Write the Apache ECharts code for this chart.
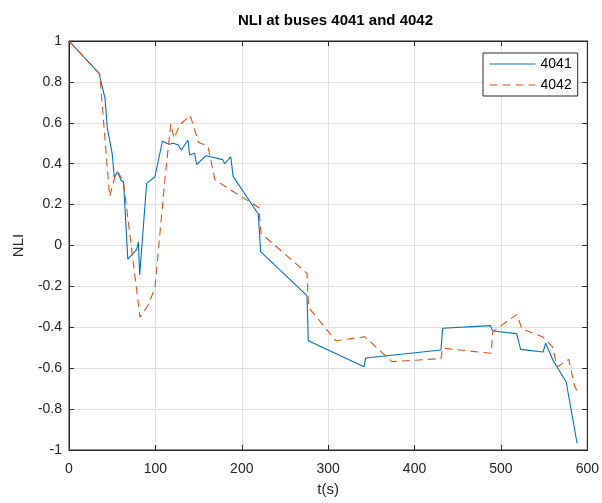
<!DOCTYPE html>
<html>
<head>
<meta charset="utf-8">
<script src="https://cdn.jsdelivr.net/npm/echarts@6/dist/echarts.min.js"></script>
<style>
  html, body { margin: 0; padding: 0; background: #fff; }
  #chart { width: 602px; height: 503px; }
</style>
</head>
<body>
<div id="chart"></div>
<script>
// ---- Data ----
const seriesNames = ['4041', '4042'];
const t4041 = [0, 34.8, 41.7, 44.4, 50.1, 52.4, 56.2, 60.4, 63.1, 68.1, 78.4, 80.3, 81.8, 89.9, 99.4, 108.2, 115.9, 120.8, 126.6, 130, 137.7, 139.6, 145.3, 147.8, 158.5, 178, 180.1, 187.3, 190, 219.1, 221.8, 275.5, 277, 341.5, 343.4, 430.6, 432.5, 487.9, 490.6, 518.2, 522.8, 548.8, 551.8, 560.6, 575.5, 588.1];
const v4041 = [1, 0.842, 0.72, 0.573, 0.447, 0.332, 0.361, 0.317, 0.312, -0.067, -0.019, 0.017, -0.144, 0.304, 0.335, 0.511, 0.495, 0.50, 0.491, 0.467, 0.516, 0.443, 0.451, 0.396, 0.439, 0.42, 0.40, 0.433, 0.338, 0.154, -0.03, -0.245, -0.466, -0.593, -0.55, -0.511, -0.405, -0.392, -0.418, -0.431, -0.508, -0.521, -0.478, -0.565, -0.666, -0.967];
const t4042 = [0, 35.6, 47, 54.7, 57.5, 63.1, 82.2, 91, 99.4, 111.3, 117.8, 121.6, 128.1, 140.3, 150, 160.8, 169, 219.9, 222.2, 275.5, 277.4, 308.9, 342.2, 374, 430.6, 432.3, 488.7, 490.6, 518.5, 524.3, 548, 559.5, 565.2, 578.5, 585.4, 590.8];
const v4042 = [1, 0.839, 0.239, 0.361, 0.355, 0.307, -0.351, -0.296, -0.21, 0.336, 0.594, 0.524, 0.589, 0.636, 0.504, 0.486, 0.32, 0.185, 0.06, -0.136, -0.303, -0.466, -0.446, -0.568, -0.553, -0.502, -0.527, -0.421, -0.337, -0.408, -0.446, -0.495, -0.593, -0.557, -0.69, -0.731];
const xTicks = { min: 0, max: 600, interval: 100 };
const yTicks = { min: -1, max: 1, interval: 0.2 };
const titleText = 'NLI at buses 4041 and 4042';
const xLabel = 't(s)';
const yLabel = 'NLI';

function zip(ts, vs) { return ts.map((t, i) => [t, vs[i]]); }

const FONT = '"Liberation Sans", Arial, Helvetica, sans-serif';
const AXC = '#262626';

const chart = echarts.init(document.getElementById('chart'), null, { renderer: 'canvas' });

function fmtY(v) {
  const r = Math.round(v * 10) / 10;
  if (Math.abs(r) < 1e-9) return '0';
  return String(r);
}

const baseAxisCommon = {
  axisLine: { show: true, onZero: false, lineStyle: { color: AXC, width: 1 } },
  axisTick: { show: true, inside: true, length: 5, lineStyle: { color: AXC, width: 1 } },
};

const option = {
  animation: false,
  backgroundColor: '#ffffff',
  title: {
    text: titleText,
    left: 330.5,
    top: 8,
    textAlign: 'center',
    textStyle: { fontFamily: FONT, fontSize: 15, fontWeight: 'bold', color: '#000' }
  },
  legend: {
    data: seriesNames,
    orient: 'vertical',
    left: 483,
    top: 53,
    padding: [4, 6, 4, 6],
    itemGap: 7,
    itemWidth: 46,
    itemHeight: 14,
    backgroundColor: '#fff',
    borderColor: AXC,
    borderWidth: 1,
    borderRadius: 0,
    itemStyle: { opacity: 0, borderWidth: 0 },
    lineStyle: { width: 1.1 },
    textStyle: { fontFamily: FONT, fontSize: 14, color: '#000' }
  },
  grid: {
    left: 69, right: 10, top: 41, bottom: 53,
    show: true, borderColor: AXC, borderWidth: 1, backgroundColor: '#fff'
  },
  xAxis: [
    Object.assign({
      type: 'value', position: 'bottom',
      min: xTicks.min, max: xTicks.max, interval: xTicks.interval,
      name: xLabel, nameLocation: 'middle', nameGap: 32,
      nameTextStyle: { fontFamily: FONT, fontSize: 15, color: AXC },
      axisLabel: { fontFamily: FONT, fontSize: 14, color: AXC, margin: 12 },
      splitLine: { show: true, lineStyle: { color: '#dfdfdf', width: 1 } }
    }, baseAxisCommon),
    Object.assign({
      type: 'value', position: 'top',
      min: xTicks.min, max: xTicks.max, interval: xTicks.interval,
      axisLabel: { show: false },
      splitLine: { show: false }
    }, baseAxisCommon)
  ],
  yAxis: [
    Object.assign({
      type: 'value', position: 'left',
      min: yTicks.min, max: yTicks.max, interval: yTicks.interval,
      name: yLabel, nameLocation: 'middle', nameGap: 43, nameRotate: 90,
      nameTextStyle: { fontFamily: FONT, fontSize: 15, color: AXC },
      axisLabel: { fontFamily: FONT, fontSize: 14, color: AXC, margin: 7, formatter: fmtY },
      splitLine: { show: true, lineStyle: { color: '#dfdfdf', width: 1 } }
    }, baseAxisCommon),
    Object.assign({
      type: 'value', position: 'right',
      min: yTicks.min, max: yTicks.max, interval: yTicks.interval,
      axisLabel: { show: false },
      splitLine: { show: false }
    }, baseAxisCommon)
  ],
  series: [
    {
      name: seriesNames[0], type: 'line', xAxisIndex: 0, yAxisIndex: 0,
      data: zip(t4041, v4041),
      showSymbol: false, symbol: 'none',
      lineStyle: { color: '#0072BD', width: 1.1, type: 'solid' },
      itemStyle: { color: '#0072BD' }
    },
    {
      name: seriesNames[1], type: 'line', xAxisIndex: 0, yAxisIndex: 0,
      data: zip(t4042, v4042),
      showSymbol: false, symbol: 'none',
      lineStyle: { color: '#D95319', width: 1.1, type: [8, 5] },
      itemStyle: { color: '#D95319' }
    }
  ]
};

chart.setOption(option);
</script>
</body>
</html>
